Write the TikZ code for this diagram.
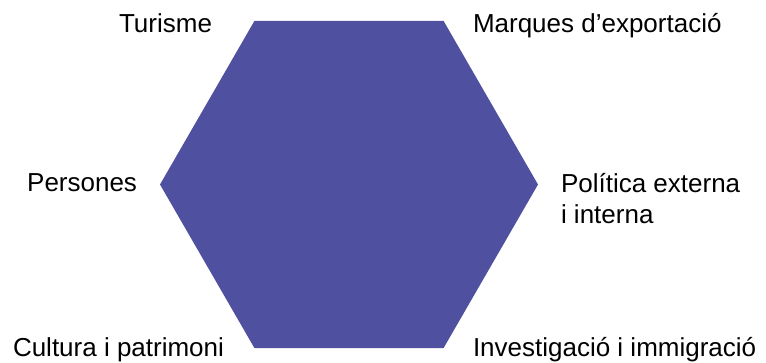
\documentclass[tikz,border=0pt]{standalone}
\usepackage{fontspec}
\setmainfont{Liberation Sans}
\usepackage{tikz}
\usetikzlibrary{positioning}
\usepackage{xcolor}
\definecolor{HexBlue}{HTML}{4F51A0}
\definecolor{LabelText}{HTML}{000000}
\tikzset{
  hexfill/.style={fill=HexBlue,draw=none},
  lbl/.style={inner sep=0pt,outer sep=0pt,text=LabelText,font=\fontsize{26}{31}\selectfont,align=left}
}

\begin{document}
\begin{tikzpicture}[x=1pt,y=-1pt]
\useasboundingbox (0,0) rectangle (766,363);
\coordinate (c) at (349,184.5);
\fill[hexfill] (c) +(0:189) -- +(60:189) -- +(120:189) -- +(180:189) -- +(240:189) -- +(300:189) -- cycle;
\node[lbl,anchor=base east] (turisme) at (212,33) {Turisme};
\node[lbl,anchor=base west] (marques) at (473,33) {Marques d’exportació};
\node[lbl,anchor=base east] (persones) at (137,192) {Persones};
\node[lbl,anchor=base west] (politica) at (561,224) {Política externa\\i interna};
\node[lbl,anchor=base west] (cultura) at (13,356) {Cultura i patrimoni};
\node[lbl,anchor=base west] (investigacio) at (473,356) {Investigació i immigració};
\end{tikzpicture}
\end{document}
